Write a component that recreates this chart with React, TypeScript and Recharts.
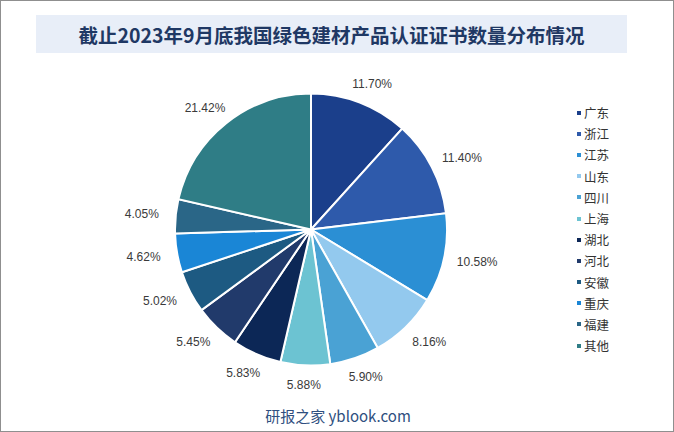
import { PieChart, Pie, Cell, Legend } from "recharts";

const provinces = ["广东", "浙江", "江苏", "山东", "四川", "上海", "湖北", "河北", "安徽", "重庆", "福建", "其他"];
const shares = [11.7, 11.4, 10.58, 8.16, 5.9, 5.88, 5.83, 5.45, 5.02, 4.62, 4.05, 21.42];

const COLORS = [
  "#1b3f8b",
  "#2e5aab",
  "#2b8fd4",
  "#93c9ee",
  "#4aa2d4",
  "#6cc3d2",
  "#0c2756",
  "#213a6b",
  "#1d5a82",
  "#1a86d6",
  "#2a6687",
  "#2f7d86",
];

const RADIAN = Math.PI / 180;

const chartData = provinces.map((name, i) => ({ name, value: shares[i] }));

// label box sits just outside the rim, pushed out along the mid angle
function renderLabel(props: any) {
  const { cx, cy, midAngle, outerRadius, value } = props;
  const dx = Math.cos(-midAngle * RADIAN);
  const dy = Math.sin(-midAngle * RADIAN);
  const r = outerRadius + 13;
  const w = 42;
  const h = 14;
  const x = cx + r * dx + (dx * w) / 2;
  const y = cy + r * dy + (dy * h) / 2;
  return (
    <text
      x={x}
      y={y}
      textAnchor="middle"
      dominantBaseline="central"
      fill="#3a3a3a"
      fontSize={12}
      fontFamily="'Liberation Sans', Arial, sans-serif"
    >
      {value.toFixed(2)}%
    </text>
  );
}

function LegendList() {
  return (
    <ul style={{ listStyle: "none", margin: 0, padding: 0 }}>
      {provinces.map((p, i) => (
        <li
          key={p}
          style={{
            height: 21.2,
            display: "flex",
            alignItems: "center",
            fontSize: 12.5,
            color: "#333",
            fontFamily: "'Noto Sans CJK SC', sans-serif",
          }}
        >
          <span
            style={{
              display: "inline-block",
              width: 4,
              height: 4,
              background: COLORS[i],
              marginRight: 3,
            }}
          />
          {p}
        </li>
      ))}
    </ul>
  );
}

export default function App() {
  return (
    <div
      style={{
        position: "absolute",
        left: 0,
        top: 0,
        width: 674,
        height: 432,
        background: "#fff",
        border: "1px solid #8f8f8f",
        boxSizing: "border-box",
        overflow: "hidden",
      }}
    >
      <div
        style={{
          position: "absolute",
          left: 35,
          top: 14,
          width: 591,
          height: 38,
          background: "#e8eef8",
          display: "flex",
          alignItems: "center",
          justifyContent: "center",
          color: "#1f3864",
          fontSize: 19.5,
          fontWeight: 700,
          fontFamily: "'Noto Sans CJK SC', sans-serif",
        }}
      >
        截止2023年9月底我国绿色建材产品认证证书数量分布情况
      </div>
      <div style={{ position: "absolute", left: -1, top: -1 }}>
        <PieChart width={674} height={432} margin={{ top: 0, right: 0, bottom: 0, left: 0 }}>
          <Pie
            data={chartData}
            dataKey="value"
            nameKey="name"
            cx={311}
            cy={229.5}
            outerRadius={136}
            startAngle={90}
            endAngle={-270}
            stroke="#ffffff"
            strokeWidth={2}
            label={renderLabel}
            labelLine={false}
            isAnimationActive={false}
          >
            {chartData.map((d, i) => (
              <Cell key={d.name} fill={COLORS[i]} />
            ))}
          </Pie>
          <Legend
            layout="vertical"
            content={<LegendList />}
            wrapperStyle={{ left: 577, top: 102, width: 80 }}
          />
        </PieChart>
      </div>
      <div
        style={{
          position: "absolute",
          left: 0,
          width: 674,
          top: 405,
          textAlign: "center",
          fontSize: 15,
          color: "#2f4f80",
          fontFamily: "'Noto Sans CJK SC', sans-serif",
          lineHeight: "20px",
        }}
      >
        研报之家 yblook.com
      </div>
    </div>
  );
}
